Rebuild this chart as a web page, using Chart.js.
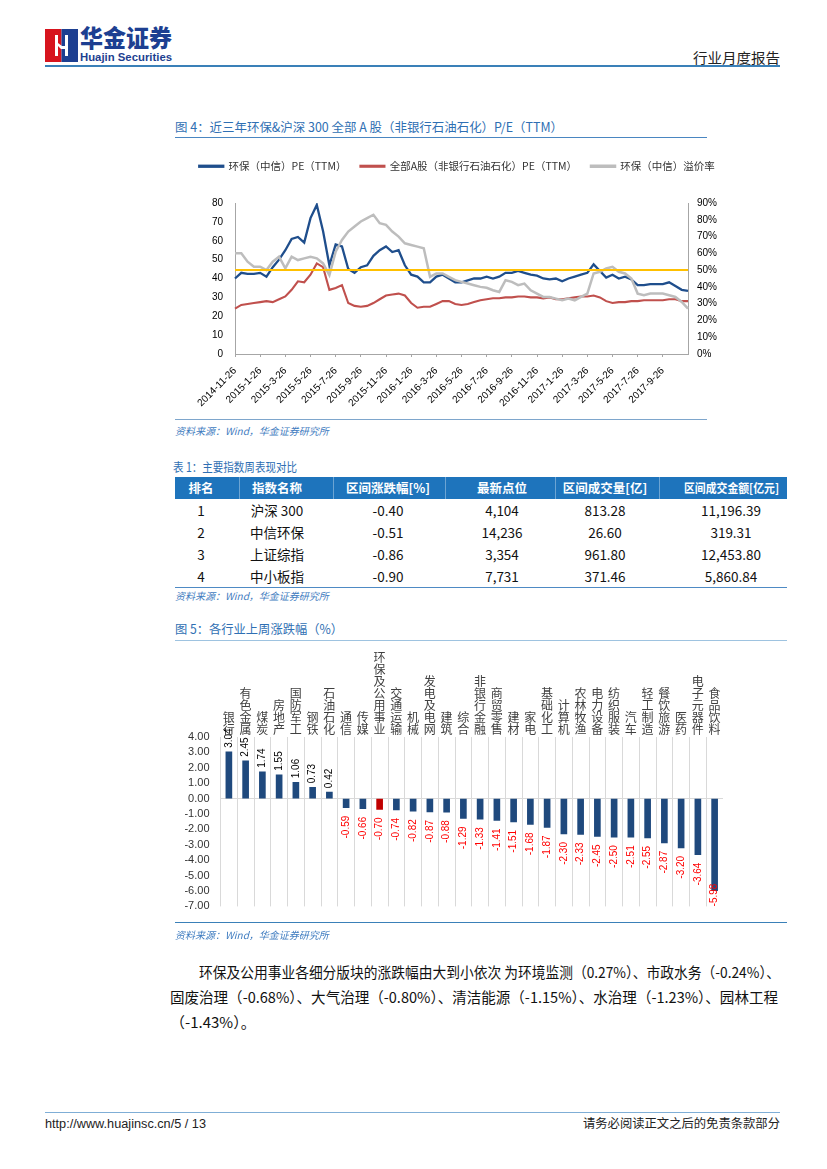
<!DOCTYPE html>
<html><head><meta charset="utf-8">
<script src="https://cdn.jsdelivr.net/npm/chart.js@4.4.1/dist/chart.umd.min.js"></script>
<style>
html,body{margin:0;padding:0;background:#fff;}
#page{position:relative;width:827px;height:1169px;overflow:hidden;font-family:"Noto Sans CJK SC","Liberation Sans",sans-serif;color:#222;}
.a{position:absolute;white-space:nowrap;line-height:1;}
.ttl{color:#2F6FB3;font-size:12.5px;}
.src{color:#3F7CC0;font-size:10px;font-style:italic;}
.hl{position:absolute;height:0;}
.th{position:absolute;color:#fff;font-weight:bold;font-size:12.5px;line-height:22px;white-space:nowrap;}
.td{position:absolute;color:#111;font-size:13.5px;line-height:22px;transform:translateX(-50%);white-space:nowrap;}
.para{position:absolute;font-size:15px;line-height:20px;white-space:nowrap;color:#111;transform-origin:left top;}
</style></head>
<body><div id="page">
<!-- header -->
<svg class="a" style="left:45px;top:29px" width="33" height="33" viewBox="0 0 33 33">
  <rect x="0" y="0" width="16.5" height="33" fill="#D7141E"/>
  <rect x="16.5" y="0" width="16.5" height="33" fill="#1D3F91"/>
  <polygon points="10,6 13,6 13,14 17,17 20,17 20,6 23,6 23,27 20,27 20,20 16,20 13,17 13,27 10,27" fill="#fff"/>
</svg>
<div class="a" style="left:80px;top:26px;font-size:23.5px;font-weight:900;color:#1D3F91" id="logoCn">华金证券</div>
<div class="a" style="left:80px;top:52px;font-size:10.5px;font-weight:bold;color:#1D3F91;font-family:'Liberation Sans',Arial" id="logoEn">Huajin Securities</div>
<div class="a" style="left:693px;top:50px;font-size:14px;color:#222" id="hdrR">行业月度报告</div>
<div class="hl" style="left:45px;top:65px;width:735px;border-top:2px solid #3A80B8"></div>

<!-- figure 4 -->
<div class="a ttl" style="left:175px;top:121px" id="t4">图 4：近三年环保&amp;沪深 300 全部 A 股（非银行石油石化）P/E（TTM）</div>
<div class="hl" style="left:175px;top:137px;width:532px;border-top:1.3px solid #4A86C1"></div>
<div class="a" style="left:175px;top:147px;width:564px;height:267px"><canvas id="c4" width="564" height="267"></canvas></div>
<div class="hl" style="left:175px;top:419px;width:532px;border-top:1.5px solid #7EA6CC"></div>
<div class="a src" style="left:175px;top:426px">资料来源：Wind，华金证券研究所</div>

<!-- table 1 -->
<div class="a ttl" style="left:173px;top:461px" id="t1">表 1：主要指数周表现对比</div>
<div class="a" id="tbl" style="left:175px;top:477px;width:612px;height:110px"></div>
<div class="hl" style="left:175px;top:587px;width:612px;border-top:1.3px solid #4E8AC4"></div>
<div class="a src" style="left:175px;top:591px">资料来源：Wind，华金证券研究所</div>

<!-- figure 5 -->
<div class="a ttl" style="left:175px;top:623px" id="t5">图 5：各行业上周涨跌幅（%）</div>
<div class="hl" style="left:175px;top:640px;width:612px;border-top:1.3px solid #9EC3E0"></div>
<div class="a" style="left:175px;top:645px;width:548px;height:279px"><canvas id="c5" width="548" height="279"></canvas></div>
<div class="hl" style="left:175px;top:922px;width:612px;border-top:1.5px solid #3A80B8"></div>
<div class="a src" style="left:175px;top:930px">资料来源：Wind，华金证券研究所</div>

<!-- paragraph -->
<div class="para" style="left:199px;top:962px" id="p1">环保及公用事业各细分版块的涨跌幅由大到小依次 为环境监测（0.27%）、市政水务（-0.24%）、</div>
<div class="para" style="left:170px;top:987px" id="p2">固废治理（-0.68%）、大气治理（-0.80%）、清洁能源（-1.15%）、水治理（-1.23%）、园林工程</div>
<div class="para" style="left:170px;top:1012px" id="p3">（-1.43%）。</div>

<!-- footer -->
<div class="hl" style="left:45px;top:1112px;width:735px;border-top:1.5px solid #7FAED6"></div>
<div class="a" style="left:45px;top:1118px;font-size:12px;font-family:'Liberation Sans',Arial;color:#222" id="fl">http://www.huajinsc.cn/5 / 13</div>
<div class="a" style="left:583px;top:1117px;font-size:12.5px;color:#222" id="fr">请务必阅读正文之后的免责条款部分</div>
</div>
<script>
// ---------- Figure 4 data (half-monthly readings) ----------
const peDates = [];
(function(){ let y=2014, m=11; for(let i=0;i<73;i++){ if(i%2===0){ peDates.push(y+'-'+m+'-26'); } else { let nm=m+1, ny=y; if(nm>12){nm=1;ny++;} peDates.push(ny+'-'+nm+'-11'); m=nm; y=ny; } } })();
const envPE = [40,43,42.5,42.5,43,41,46,50,55,61,62,59,72,79,65,47,58,57,45,43,46,47,52,55,57,54,55,47,42,41,38,38,41,42,40,38,38,39,40,40,41,40,41,43,43,44,43,42,41.5,40,39.5,40,38.5,40,41,42,43,47.5,44,40.5,42,40,41,39.5,36.5,36.5,37,37,37,38,36,34,33.5];
const allAPE = [24,26,26.5,27,27.5,28,27.5,29,30.5,34,38.5,38,42,48,46,34,35,36.5,27,25.5,25,25.5,27,29,31,31.5,32,31,27,24.5,25,25,26.5,28,28,26.5,26,26.5,27.5,28.5,29,29.5,29.5,30,30,30.5,30.5,30,30,29.5,30,29,29,29.5,30,30.5,30.5,31,30,28,27,27.5,27.5,28,28,28.5,28.5,28.5,28.5,29,29,28,28];
const envPremium = [60,60,55,52,52,50,55,58,51,58,56,57,58,57,54,47,61,68,73,76,79,81,83,78,77,73,70,66,65,64,63,46,48,48,46,44,43,42,41,40,39.5,38,37,44,43,41,42,38,36,34,34,33,32,33,32,34,36,48,49,51,52,49,48,45,36,35,36,36,36,35,34,31,27];
const premiumMean = 50;
const seriesNames = ['环保（中信）PE（TTM）','全部A股（非银行石油石化）PE（TTM）','环保（中信）溢价率','溢价率均值'];

// ---------- Table 1 ----------
const tblHead = ['排名','指数名称','区间涨跌幅[%]','最新点位','区间成交量[亿]','区间成交金额[亿元]'];
const tblRank = ['1','2','3','4'];
const tblName = ['沪深 300','中信环保','上证综指','中小板指'];
const tblChg = ['-0.40','-0.51','-0.86','-0.90'];
const tblLast = ['4,104','14,236','3,354','7,731'];
const tblVol = ['813.28','26.60','961.80','371.46'];
const tblAmt = ['11,196.39','319.31','12,453.80','5,860.84'];

// ---------- Figure 5 data ----------
const industries = ['银行','有色金属','煤炭','房地产','国防军工','钢铁','石油石化','通信','传媒','环保及公用事业','交通运输','机械','发电及电网','建筑','综合','非银行金融','商贸零售','建材','家电','基础化工','计算机','农林牧渔','电力设备','纺织服装','汽车','轻工制造','餐饮旅游','医药','电子元器件','食品饮料'];
const weeklyChange = [3.04,2.45,1.74,1.55,1.06,0.73,0.42,-0.59,-0.66,-0.70,-0.74,-0.82,-0.87,-0.88,-1.29,-1.33,-1.41,-1.51,-1.68,-1.87,-2.30,-2.33,-2.45,-2.50,-2.51,-2.55,-2.87,-3.20,-3.64,-5.98];
const highlightIndustry = '环保及公用事业';

// ---------- build table ----------
(function(){
  const t = document.getElementById('tbl');
  const centers = [26,102,213,327,430,556]; // relative to table left
  const headW = [0,0,0,0,0,95];
  const bounds = [64,158,270,380,484];
  let h = '<div style="position:absolute;left:0;top:0;width:612px;height:22px;background:#1E74BC"></div>';
  bounds.forEach(b=>{ h += '<div style="position:absolute;left:'+b+'px;top:0;width:1px;height:22px;background:rgba(255,255,255,0.35)"></div>'; });
  tblHead.forEach((s,i)=>{ h += '<div class="th" id="th'+i+'" data-c="'+centers[i]+'" data-w="'+headW[i]+'" style="left:'+centers[i]+'px;top:0">'+s+'</div>'; });
  const cols = [tblRank,tblName,tblChg,tblLast,tblVol,tblAmt];
  for(let r=0;r<4;r++){
    cols.forEach((c,i)=>{ h += '<div class="td" style="left:'+centers[i]+'px;top:'+(22+r*22)+'px">'+c[r]+'</div>'; });
  }
  t.innerHTML = h;
  tblHead.forEach((s,i)=>{
    const el = document.getElementById('th'+i);
    const c = +el.dataset.c, w0 = el.getBoundingClientRect().width, tw = +el.dataset.w || w0;
    const k = tw / w0;
    el.style.transformOrigin = 'left top';
    el.style.left = (c - tw/2) + 'px';
    el.style.transform = 'scaleX(' + k + ')';
  });
})();

// ---------- Figure 4 chart ----------
const CJK = '"Noto Sans CJK SC", "Liberation Sans", sans-serif';
const LAT = '"Liberation Sans", Arial, sans-serif';
const legendHeight = {
  id:'legendHeight',
  beforeLayout(chart, args, opts){
    const lg = chart.legend;
    if(lg && !lg._hFixed){ const f = lg.fit; lg.fit = function(){ f.call(this); this.height = opts.h; }; lg._hFixed = true; }
  }
};
new Chart(document.getElementById('c4'), {
  type:'line',
  data:{
    labels: peDates,
    datasets:[
      {label:seriesNames[0], data:envPE, borderColor:'#1F4E8C', backgroundColor:'#1F4E8C', borderWidth:2.3, pointRadius:0, yAxisID:'y', order:4},
      {label:seriesNames[1], data:allAPE, borderColor:'#C0504D', backgroundColor:'#C0504D', borderWidth:2.1, pointRadius:0, yAxisID:'y', order:3},
      {label:seriesNames[2], data:envPremium, borderColor:'#BDBDBD', backgroundColor:'#BDBDBD', borderWidth:2.5, pointRadius:0, yAxisID:'y1', order:2},
      {label:seriesNames[3], data:peDates.map(()=>premiumMean), borderColor:'#FFC000', backgroundColor:'#FFC000', borderWidth:2, pointRadius:0, yAxisID:'y1', order:1}
    ]
  },
  options:{
    responsive:false, animation:false, events:[],
    layout:{padding:0},
    plugins:{
      legendHeight:{h:56},
      tooltip:{enabled:false},
      legend:{position:'top', labels:{boxWidth:24, boxHeight:1, padding:14, color:'#333', font:{size:10.5, family:CJK},
        filter:(it)=>it.datasetIndex<3, sort:(a,b)=>a.datasetIndex-b.datasetIndex}}
    },
    scales:{
      x:{ grid:{drawOnChartArea:false, drawTicks:true, tickLength:3, color:'#A6A6A6'}, border:{color:'#A6A6A6'},
          ticks:{autoSkip:false, maxRotation:45, minRotation:45, padding:8, color:'#000', font:{size:10, family:LAT},
            callback:(v,i)=> (i%4===0 && i<=68) ? peDates[i] : null},
          afterFit:(s)=>{ s.height = 60; } },
      y:{ min:0, max:80, ticks:{stepSize:10, padding:12, color:'#000', font:{size:10, family:LAT}},
          grid:{drawOnChartArea:false, drawTicks:false}, border:{color:'#A6A6A6'}, afterFit:(s)=>{ s.width = 60; } },
      y1:{ position:'right', min:0, max:90, ticks:{stepSize:10, padding:9, color:'#000', font:{size:10, family:LAT}, callback:(v)=>v+'%'},
          grid:{drawOnChartArea:false, drawTicks:false}, border:{color:'#A6A6A6'}, afterFit:(s)=>{ s.width = 51; } }
    }
  },
  plugins:[legendHeight]
});

// ---------- Figure 5 chart ----------
const barLabels = {
  id:'barLabels',
  afterDatasetsDraw(chart){
    const {ctx, chartArea} = chart;
    const meta = chart.getDatasetMeta(0);
    ctx.save();
    ctx.font = '10px ' + LAT;
    ctx.textBaseline = 'middle';
    meta.data.forEach((bar,i)=>{
      const v = weeklyChange[i];
      const txt = v.toFixed(2);
      const w = ctx.measureText(txt).width;
      ctx.save();
      if(v >= 0){
        ctx.translate(bar.x, bar.y - 4);
        ctx.rotate(-Math.PI/2);
        ctx.textAlign = 'left';
        ctx.fillStyle = '#000';
      } else {
        let y = bar.y + 8;
        if(y + w > chartArea.bottom) y = chartArea.bottom - w;
        ctx.translate(bar.x, y);
        ctx.rotate(-Math.PI/2);
        ctx.textAlign = 'right';
        ctx.fillStyle = '#FF0000';
      }
      ctx.fillText(txt, 0, 0);
      ctx.restore();
    });
    ctx.restore();
  }
};
new Chart(document.getElementById('c5'), {
  type:'bar',
  data:{
    labels: industries.map(s=>s.split('')),
    datasets:[{ data: weeklyChange, backgroundColor: industries.map(n => n===highlightIndustry ? '#C00000' : '#1F497D'), barThickness:6 }]
  },
  options:{
    responsive:false, animation:false, events:[],
    layout:{padding:0},
    plugins:{legend:{display:false}, tooltip:{enabled:false}},
    scales:{
      x:{ position:'top', grid:{offset:true, drawTicks:false, color:'#D9D9D9'}, border:{display:false},
          ticks:{autoSkip:false, maxRotation:0, minRotation:0, padding:2, color:'#404040', font:{size:12, family:CJK, lineHeight:1.0}},
          afterFit:(s)=>{ s.height = 92; } },
      y:{ min:-7, max:4, ticks:{stepSize:1, autoSkip:false, padding:11, color:'#333', font:{size:11, family:LAT}, callback:(v)=>v.toFixed(2)},
          grid:{drawTicks:false, color:(c)=> (c.tick && c.tick.value===0) ? '#D9D9D9' : 'rgba(0,0,0,0)'}, border:{display:false},
          afterFit:(s)=>{ s.width = 45.5; } }
    }
  },
  plugins:[barLabels]
});

// ---------- fit text widths ----------
function fitW(id, w){ const el=document.getElementById(id); const n=el.getBoundingClientRect().width; if(n>0){ el.style.transformOrigin='left top'; el.style.transform='scaleX('+(w/n)+')'; } }
fitW('t4', 388); fitW('t1', 124); fitW('t5', 168);
fitW('p1', 581); fitW('p2', 608);
fitW('fl', 161); fitW('fr', 197); fitW('hdrR', 87);
fitW('logoCn', 92); fitW('logoEn', 92);
</script>
</body></html>
